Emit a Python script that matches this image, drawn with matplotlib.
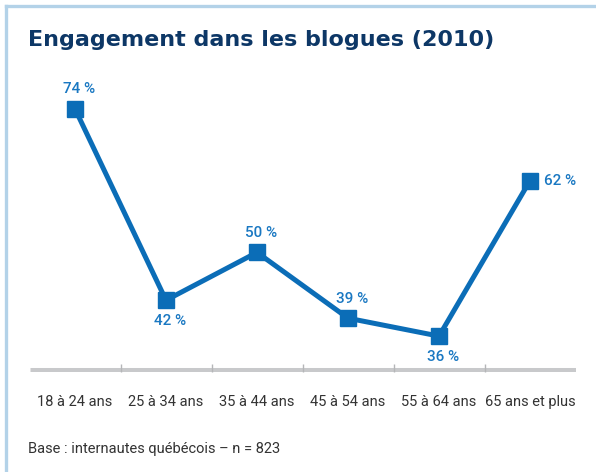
import matplotlib.pyplot as plt
from matplotlib.lines import Line2D

# data
categories = ['18 à 24 ans', '25 à 34 ans', '35 à 44 ans', '45 à 54 ans', '55 à 64 ans', '65 ans et plus']
values = [74, 42, 50, 39, 36, 62]
# label placement for each point: above / below / right
label_pos = ['above', 'below', 'above', 'above', 'below', 'right']

title = 'Engagement dans les blogues (2010)'
footer = 'Base : internautes québécois – n = 823'

blue = '#0b6db7'
label_blue = '#1a78c2'
navy = '#0d3766'
gray_bar = '#c8c9cb'
text_gray = '#333333'
small_font = ['Roboto', 'DejaVu Sans']

fig = plt.figure(figsize=(5.96, 4.72), dpi=100)

# light blue frame along top and left
frame = '#b3d2e8'
fig.add_artist(Line2D([6 / 596, 6 / 596], [0, 1 - 6 / 472], transform=fig.transFigure,
                      color=frame, lw=2.4))
fig.add_artist(Line2D([6 / 596, 1], [1 - 6 / 472, 1 - 6 / 472], transform=fig.transFigure,
                      color=frame, lw=2.4))

ax = fig.add_axes([29.5 / 596, 100 / 472, 546 / 596, 299 / 472])
x = list(range(len(categories)))

ax.axhline(30, color=gray_bar, lw=6.5, solid_capstyle='butt', zorder=1)
ax.plot(x, values, color=blue, lw=3.6, marker='s', markersize=11.5, zorder=3,
        solid_joinstyle='miter')

for xi, v, pos in zip(x, values, label_pos):
    txt = f'{v}\u202f%'
    kw = dict(color=label_blue, fontsize=11, fontweight='medium', family=small_font)
    if pos == 'above':
        ax.annotate(txt, (xi, v), xytext=(3, 9), textcoords='offset points',
                    ha='center', va='bottom', **kw)
    elif pos == 'below':
        ax.annotate(txt, (xi, v), xytext=(3, -10), textcoords='offset points',
                    ha='center', va='top', **kw)
    else:
        ax.annotate(txt, (xi, v), xytext=(10, 0), textcoords='offset points',
                    ha='left', va='center', **kw)

ax.set_xlim(-0.5, 5.5)
ax.set_ylim(30, 80)
for s in ax.spines.values():
    s.set_visible(False)
ax.set_yticks([])
ax.set_xticks(x)
ax.set_xticklabels(categories, family=small_font, fontsize=10.5, color=text_gray)
ax.tick_params(axis='x', which='major', length=0, pad=16.5)
ax.set_xticks([i + 0.5 for i in x[:-1]], minor=True)
ax.tick_params(axis='x', which='minor', direction='in', length=5.5, width=1, color='#b5b6b8')

fig.text(28 / 596, 1 - 40 / 472, title, fontsize=16, fontweight='bold', color=navy,
         va='center', ha='left')
fig.text(28 / 596, 1 - 449 / 472, footer, fontsize=10.5, color=text_gray, family=small_font,
         va='center', ha='left')

fig.savefig('out.png', dpi=100)
